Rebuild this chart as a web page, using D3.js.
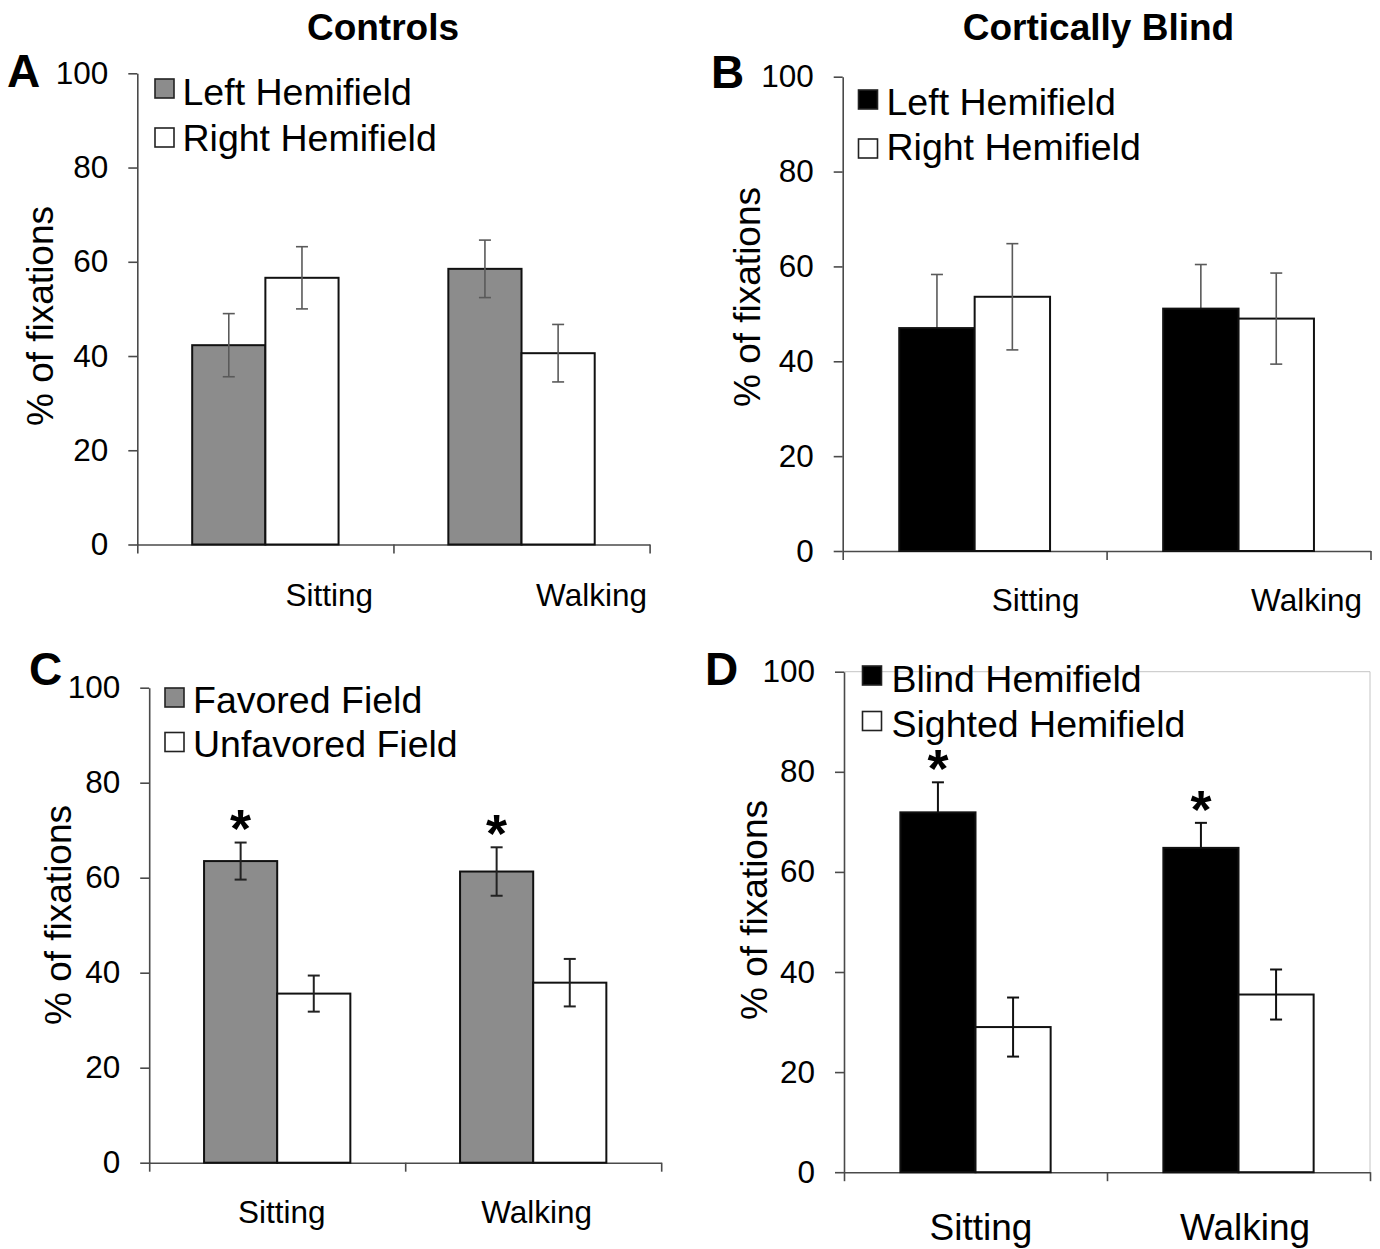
<!DOCTYPE html>
<html><head><meta charset="utf-8">
<script src="https://cdn.jsdelivr.net/npm/d3@7"></script>
<style>body{margin:0;background:#fff} svg{display:block} text{font-family:"Liberation Sans",Arial,Helvetica,sans-serif;fill:#000}</style>
</head><body><svg id="c" width="1380" height="1249"></svg>
<script>
// ---- data ----
const categories = ["Sitting", "Walking"];
const yTicks = [0, 20, 40, 60, 80, 100];
const columnTitles = ["Controls", "Cortically Blind"];

const seriesA = ["Left Hemifield", "Right Hemifield"];
const meansA = [[42.3, 56.6], [58.5, 40.6]];
const errA   = [[6.7, 6.6], [6.1, 6.1]];

const seriesB = ["Left Hemifield", "Right Hemifield"];
const meansB = [[47.0, 53.6], [51.1, 49.0]];
const errB   = [[11.3, 11.2], [9.3, 9.6]];

const seriesC = ["Favored Field", "Unfavored Field"];
const meansC = [[63.5, 35.6], [61.3, 37.9]];
const errC   = [[3.9, 3.8], [5.1, 5.0]];

const seriesD = ["Blind Hemifield", "Sighted Hemifield"];
const meansD = [[71.9, 29.0], [64.8, 35.5]];
const errD   = [[6.0, 5.9], [5.0, 5.0]];

const starsC = [[true, false], [true, false]];
const starsD = [[true, false], [true, false]];

// ---- layout / style ----
const svg = d3.select("#c");
const FONT = '"Liberation Sans",Arial,Helvetica,sans-serif';
const panels = [
  {letter:"A", series:seriesA, means:meansA, errs:errA, stars:null, fills:["#8c8c8c","#ffffff"],
   xr:[137.3,649.6], yr:[544.5,73.3], errColor:"#5a5a5a", errW:1.6,
   labelDx:[64,70], labelY:606, catSize:31.5,
   letterPos:[7,87], ylab:[53,316],
   legend:{x:155, y:[79,128], tx:182.5, ty:[105,151]}},
  {letter:"B", series:seriesB, means:meansB, errs:errB, stars:null, fills:["#000000","#ffffff"],
   xr:[842.7,1370.5], yr:[551,76.7], errColor:"#5a5a5a", errW:1.6,
   labelDx:[61,68], labelY:611, catSize:31.5,
   letterPos:[711,88], ylab:[760,297],
   legend:{x:858.5, y:[90,139], tx:886.5, ty:[115,160]}},
  {letter:"C", series:seriesC, means:meansC, errs:errC, stars:starsC, fills:["#8c8c8c","#ffffff"],
   xr:[149.2,661.2], yr:[1162.7,687.7], errColor:"#222222", errW:2,
   labelDx:[4.5,3.5], labelY:1223, catSize:31.5,
   letterPos:[29,685], ylab:[71,915],
   legend:{x:165, y:[688,732.5], tx:193, ty:[712.5,757.3]}},
  {letter:"D", series:seriesD, means:meansD, errs:errD, stars:starsD, fills:["#000000","#ffffff"],
   xr:[844,1370], yr:[1172.2,671.7], errColor:"#111111", errW:2,
   labelDx:[5.5,6.5], labelY:1240, catSize:37,
   letterPos:[705,685], ylab:[767,910], border:true,
   legend:{x:862.5, y:[666,711.5], tx:891.5, ty:[691.5,736.5]}}
];

// column titles
svg.append("text").attr("x",383).attr("y",40).attr("text-anchor","middle")
  .attr("font-size",37).attr("font-weight","bold").text(columnTitles[0]);
svg.append("text").attr("x",1098.5).attr("y",40).attr("text-anchor","middle")
  .attr("font-size",37).attr("font-weight","bold").text(columnTitles[1]);

panels.forEach(p => {
  const g = svg.append("g");
  const y = d3.scaleLinear().domain([0,100]).range(p.yr);
  const x0 = d3.scaleBand().domain(categories).range(p.xr);
  const x1 = d3.scaleBand().domain(d3.range(p.series.length)).range([0, x0.bandwidth()]).paddingOuter(0.75);

  if (p.border) {
    g.append("path").attr("d", `M${p.xr[0]},${y(100)}H${p.xr[1]}V${y(0)}`)
      .attr("fill","none").attr("stroke","#c4c4c4").attr("stroke-width",1);
  }

  // y axis
  const ya = g.append("g").attr("transform",`translate(${p.xr[0]},0)`)
    .call(d3.axisLeft(y).tickValues(yTicks).tickSize(9).tickSizeOuter(0).tickPadding(20));
  ya.selectAll("path,line").attr("stroke","#4a4a4a").attr("stroke-width",1.6);
  ya.selectAll("text").attr("font-size",31.5).attr("font-family",FONT).attr("fill","#000");

  // x axis (category separators)
  const xs = d3.scaleLinear().domain([0, categories.length]).range(p.xr);
  const xa = g.append("g").attr("transform",`translate(0,${y(0)})`)
    .call(d3.axisBottom(xs).tickValues(d3.range(categories.length+1)).tickSize(9).tickSizeOuter(0).tickFormat(""));
  xa.selectAll("path,line").attr("stroke","#4a4a4a").attr("stroke-width",1.6);

  const errLayerBack = g.append("g");
  const barLayer = g.append("g");
  const errLayerFront = g.append("g");

  categories.forEach((c, ci) => {
    p.series.forEach((s, si) => {
      const v = p.means[ci][si], e = p.errs[ci][si];
      const bx = x0(c) + x1(si);
      barLayer.append("rect").attr("x", bx).attr("y", y(v))
        .attr("width", x1.bandwidth()).attr("height", y(0) - y(v))
        .attr("fill", p.fills[si]).attr("stroke","#111").attr("stroke-width",2);

      // error bars: hidden inside solid black bars
      const layer = p.fills[si] === "#000000" ? errLayerBack : errLayerFront;
      const cx = bx + x1.bandwidth()/2;
      layer.append("line").attr("x1",cx).attr("x2",cx).attr("y1",y(v+e)).attr("y2",y(v-e))
        .attr("stroke",p.errColor).attr("stroke-width",p.errW);
      [v+e, v-e].forEach(t => {
        layer.append("line").attr("x1",cx-6).attr("x2",cx+6).attr("y1",y(t)).attr("y2",y(t))
          .attr("stroke",p.errColor).attr("stroke-width",p.errW);
      });
      if (p.stars && p.stars[ci][si]) {
        const fs = 54;
        errLayerFront.append("text").attr("x",cx).attr("y", y(v+e) - 21 + 0.48*fs)
          .attr("text-anchor","middle").attr("font-size",fs).attr("font-weight","bold").text("*");
      }
    });
  });

  // category labels
  categories.forEach((c, ci) => {
    g.append("text").attr("x", x0(c) + x0.bandwidth()/2 + p.labelDx[ci]).attr("y", p.labelY)
      .attr("text-anchor","middle").attr("font-size",p.catSize).text(c);
  });

  // legend
  p.series.forEach((s, si) => {
    g.append("rect").attr("x", p.legend.x).attr("y", p.legend.y[si]).attr("width",19).attr("height",19)
      .attr("fill", p.fills[si]).attr("stroke","#222").attr("stroke-width",1.6);
    g.append("text").attr("x", p.legend.tx).attr("y", p.legend.ty[si]).attr("font-size",37.5).text(s);
  });

  // y label
  g.append("text").attr("transform",`translate(${p.ylab[0]},${p.ylab[1]}) rotate(-90)`)
    .attr("text-anchor","middle").attr("font-size",37).text("% of fixations");

  // panel letter
  g.append("text").attr("x",p.letterPos[0]).attr("y",p.letterPos[1])
    .attr("font-size",46).attr("font-weight","bold").text(p.letter);
});
</script></body></html>
